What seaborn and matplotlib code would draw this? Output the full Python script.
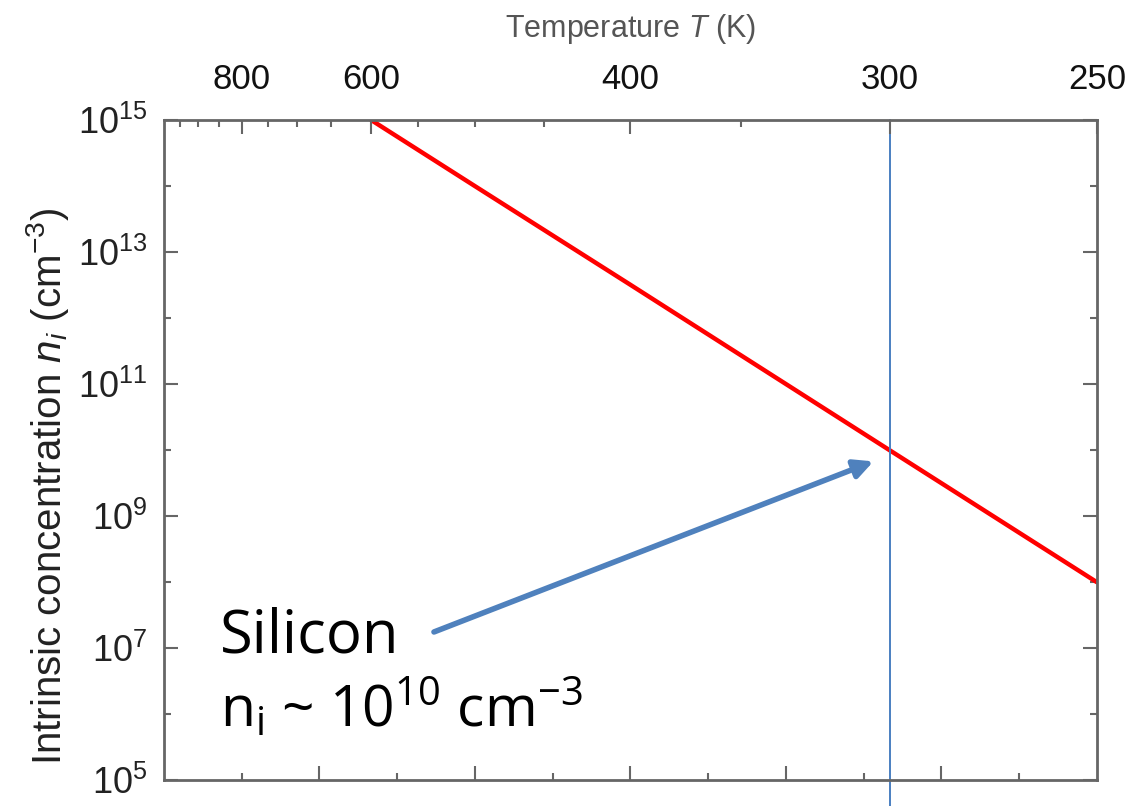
import numpy as np
import pandas as pd
import seaborn as sns
import matplotlib.pyplot as plt
from matplotlib.ticker import FixedLocator, FixedFormatter, NullFormatter

# values (Silicon intrinsic concentration)
temp_k = [600, 500, 400, 300, 250]
ni_cm3 = [1e15, 1e14, 3.2e12, 1e10, 1e8]

top_major_t = [800, 600, 400, 300, 250]
top_minor_t = [950, 900, 850, 750, 700, 650, 550, 500, 450, 350]
y_major = [1e5, 1e7, 1e9, 1e11, 1e13, 1e15]
y_minor = [1e6, 1e8, 1e10, 1e12, 1e14]
y_labels = ["5", "7", "9", "11", "13", "15"]
room_t = 300
arrow_tip = (3.29, 7e9)
arrow_tail = (1.86, 1.7e7)

df = pd.DataFrame({"T": temp_k, "ni": ni_cm3})
df["invT"] = 1000 / df["T"]

sns.set_theme(style="white")
plt.rcParams["font.family"] = ["Liberation Sans", "DejaVu Sans"]
plt.rcParams["mathtext.fontset"] = "custom"
plt.rcParams["mathtext.rm"] = "Liberation Sans"
plt.rcParams["mathtext.it"] = "Liberation Sans:italic"

fig = plt.figure(figsize=(11.26, 8.06), dpi=100)
ax = fig.add_axes([0.1456, 0.032, 0.8285, 0.819])

sns.lineplot(data=df, x="invT", y="ni", ax=ax, color="#ff0000", lw=3.2)
ax.set_yscale("log")
ax.set_xlim(1, 4)
ax.set_ylim(1e5, 1e15)

# vertical marker at room temperature
ax.axvline(1000 / room_t, ymin=-0.04, ymax=1, color="#4a7fc1", lw=1.4, clip_on=False)

grey = "#666666"
for s in ax.spines.values():
    s.set_color(grey)
    s.set_linewidth(2)

ax.xaxis.set_major_locator(FixedLocator(np.arange(1.5, 4, 0.5)))
ax.xaxis.set_minor_locator(FixedLocator(np.arange(1.25, 4, 0.5)))
ax.xaxis.set_major_formatter(NullFormatter())
ax.yaxis.set_major_locator(FixedLocator(y_major))
ax.yaxis.set_minor_locator(FixedLocator(y_minor))
ax.yaxis.set_major_formatter(FixedFormatter([r"$\mathregular{10^{%s}}$" % l for l in y_labels]))
ax.yaxis.set_minor_formatter(NullFormatter())
ax.tick_params(which="both", direction="in", color=grey, width=1.5,
               bottom=True, top=False, left=True, right=True)
ax.tick_params(which="major", length=10)
ax.tick_params(which="minor", length=5)
ax.tick_params(axis="y", labelsize=26, labelcolor="#222222", pad=12)
ax.set_xlabel("")
ax.set_ylabel(r"Intrinsic concentration $\mathit{n_i}$ (cm$^{-3}$)", fontsize=29,
              color="#222222")
ax.yaxis.set_label_coords(-0.100, 0.445)

# top temperature axis
top = ax.twiny()
top.set_xlim(ax.get_xlim())
top.xaxis.set_major_locator(FixedLocator([1000 / t for t in top_major_t]))
top.xaxis.set_major_formatter(FixedFormatter([str(t) for t in top_major_t]))
top.xaxis.set_minor_locator(FixedLocator([1000 / t for t in top_minor_t]))
top.tick_params(which="both", direction="in", color=grey, width=1.5)
top.tick_params(which="major", length=10, labelsize=25, labelcolor="#111111", pad=17)
top.tick_params(which="minor", length=5)
for s in top.spines.values():
    s.set_visible(False)
top.set_xlabel(r"Temperature $\mathit{T}$ (K)", fontsize=22, color="#555555", labelpad=19)

# annotation
ax.annotate("", xy=arrow_tip, xytext=arrow_tail,
            arrowprops=dict(arrowstyle="-|>", color="#4f81bd", lw=4, mutation_scale=28))
ax.text(1.18, 8.7e6, "Silicon", fontsize=43, family=["Open Sans", "DejaVu Sans"],
        color="black", va="baseline")
ax.text(1.18, 6.3e5, r"n$_\mathregular{i}$ ~ 10$^\mathregular{10}$ cm$^\mathregular{-3}$",
        fontsize=41, family=["Open Sans", "DejaVu Sans"], color="black", va="baseline")

fig.savefig("out.png", dpi=100)
